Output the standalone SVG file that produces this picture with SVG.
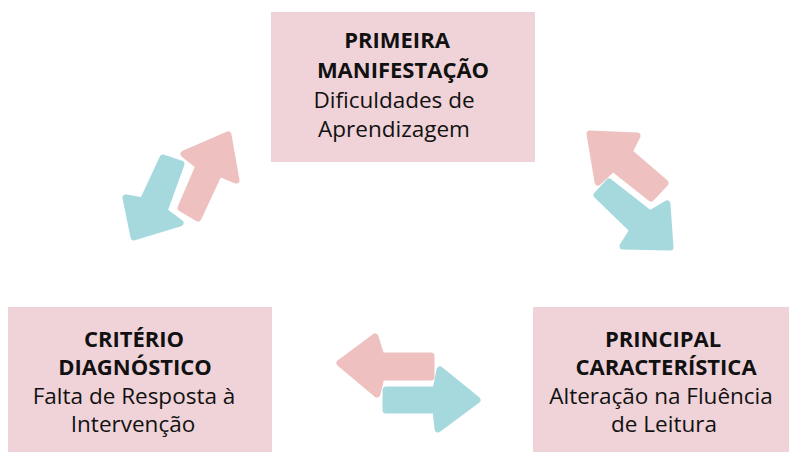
<svg xmlns="http://www.w3.org/2000/svg" width="789" height="452" viewBox="0 0 789 452">
<style>
.box{fill:#EFD3D8}
.t{font-family:"Open Sans","Noto Sans",sans-serif;font-size:22.5px;fill:#111;text-anchor:middle}
.b{font-weight:bold;font-size:22px}
.pk{fill:#EFC0C0;stroke:#EFC0C0;stroke-width:7;stroke-linejoin:round}
.tl{fill:#A6D9DE;stroke:#A6D9DE;stroke-width:7;stroke-linejoin:round}
</style>
<rect width="789" height="452" fill="#ffffff"/>
<g id="node-top">
<rect class="box" x="271" y="12" width="264" height="150"/>
<text class="t b" x="397" y="48">PRIMEIRA</text>
<text class="t b" x="403" y="78">MANIFESTAÇÃO</text>
<text class="t" x="394" y="108">Dificuldades de</text>
<text class="t" x="394" y="137">Aprendizagem</text>
</g>
<g id="node-left">
<rect class="box" x="8" y="307" width="264" height="145"/>
<text class="t b" x="134" y="347">CRITÉRIO</text>
<text class="t b" x="135" y="375">DIAGNÓSTICO</text>
<text class="t" x="134" y="404">Falta de Resposta à</text>
<text class="t" x="133" y="432">Intervenção</text>
</g>
<g id="node-right">
<rect class="box" x="533" y="307" width="256" height="145"/>
<text class="t b" x="663" y="347">PRINCIPAL</text>
<text class="t b" x="666" y="375">CARACTERÍSTICA</text>
<text class="t" x="661" y="404">Alteração na Fluência</text>
<text class="t" x="664" y="432">de Leitura</text>
</g>
<g id="connectors">
<path class="pk" d="M228,135 L236,180 L219,173 L198,218 L181,208 L199,166 L184,154 Z"/>
<path class="tl" d="M134,237 L126,198 L143,201 L163,158 L181,164 L164,211 L180,223 Z"/>
<path class="pk" d="M590,134 L637,136 L629,152 L665,183 L651,198 L613,168 L598,182 Z"/>
<path class="tl" d="M670,247 L623,246 L633,230 L597,195 L609,182 L650,214 L667,204 Z"/>
<path class="pk" d="M340,363 L375,337 L381,356 L431,356 L431,377 L381,377 L377,394 Z"/>
<path class="tl" d="M477,400 L440,370 L436,390 L386,390 L386,410 L436,410 L438,429 Z"/>
</g>
</svg>
